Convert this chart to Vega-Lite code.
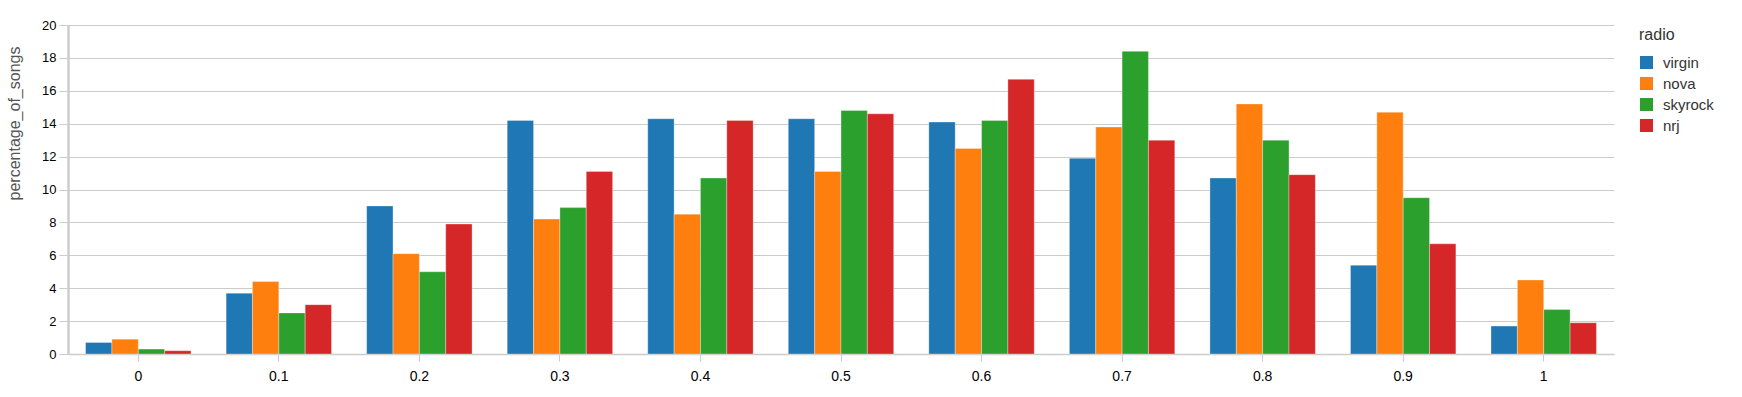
{
  "$schema": "https://vega.github.io/schema/vega-lite/v6.json",
  "width": 1546,
  "height": 329,
  "autosize": {"type": "none"},
  "padding": {"left": 68, "top": 25, "right": 128, "bottom": 43},
  "background": "white",
  "config": {
    "font": "Liberation Sans",
    "view": {"stroke": null},
    "axis": {"labelFont": "Liberation Sans", "titleFont": "Liberation Sans"}
  },
  "data": {
    "values": [
      {"bin": "0", "radio": "virgin", "pct": 0.7},
      {"bin": "0", "radio": "nova", "pct": 0.9},
      {"bin": "0", "radio": "skyrock", "pct": 0.3},
      {"bin": "0", "radio": "nrj", "pct": 0.2},
      {"bin": "0.1", "radio": "virgin", "pct": 3.7},
      {"bin": "0.1", "radio": "nova", "pct": 4.4},
      {"bin": "0.1", "radio": "skyrock", "pct": 2.5},
      {"bin": "0.1", "radio": "nrj", "pct": 3.0},
      {"bin": "0.2", "radio": "virgin", "pct": 9.0},
      {"bin": "0.2", "radio": "nova", "pct": 6.1},
      {"bin": "0.2", "radio": "skyrock", "pct": 5.0},
      {"bin": "0.2", "radio": "nrj", "pct": 7.9},
      {"bin": "0.3", "radio": "virgin", "pct": 14.2},
      {"bin": "0.3", "radio": "nova", "pct": 8.2},
      {"bin": "0.3", "radio": "skyrock", "pct": 8.9},
      {"bin": "0.3", "radio": "nrj", "pct": 11.1},
      {"bin": "0.4", "radio": "virgin", "pct": 14.3},
      {"bin": "0.4", "radio": "nova", "pct": 8.5},
      {"bin": "0.4", "radio": "skyrock", "pct": 10.7},
      {"bin": "0.4", "radio": "nrj", "pct": 14.2},
      {"bin": "0.5", "radio": "virgin", "pct": 14.3},
      {"bin": "0.5", "radio": "nova", "pct": 11.1},
      {"bin": "0.5", "radio": "skyrock", "pct": 14.8},
      {"bin": "0.5", "radio": "nrj", "pct": 14.6},
      {"bin": "0.6", "radio": "virgin", "pct": 14.1},
      {"bin": "0.6", "radio": "nova", "pct": 12.5},
      {"bin": "0.6", "radio": "skyrock", "pct": 14.2},
      {"bin": "0.6", "radio": "nrj", "pct": 16.7},
      {"bin": "0.7", "radio": "virgin", "pct": 11.9},
      {"bin": "0.7", "radio": "nova", "pct": 13.8},
      {"bin": "0.7", "radio": "skyrock", "pct": 18.4},
      {"bin": "0.7", "radio": "nrj", "pct": 13.0},
      {"bin": "0.8", "radio": "virgin", "pct": 10.7},
      {"bin": "0.8", "radio": "nova", "pct": 15.2},
      {"bin": "0.8", "radio": "skyrock", "pct": 13.0},
      {"bin": "0.8", "radio": "nrj", "pct": 10.9},
      {"bin": "0.9", "radio": "virgin", "pct": 5.4},
      {"bin": "0.9", "radio": "nova", "pct": 14.7},
      {"bin": "0.9", "radio": "skyrock", "pct": 9.5},
      {"bin": "0.9", "radio": "nrj", "pct": 6.7},
      {"bin": "1", "radio": "virgin", "pct": 1.7},
      {"bin": "1", "radio": "nova", "pct": 4.5},
      {"bin": "1", "radio": "skyrock", "pct": 2.7},
      {"bin": "1", "radio": "nrj", "pct": 1.9}
    ]
  },
  "mark": {"type": "bar", "stroke": "white", "strokeOpacity": 0.4, "strokeWidth": 0.8},
  "encoding": {
    "x": {
      "field": "bin",
      "type": "nominal",
      "sort": null,
      "scale": {"paddingInner": 0.25, "paddingOuter": 0.125},
      "axis": {
        "title": null,
        "labelAngle": 0,
        "labelFontSize": 14,
        "labelColor": "#000000",
        "labelPadding": 8,
        "tickColor": "#cccccc",
        "tickSize": 7,
        "domainColor": "#cccccc",
        "domainWidth": 1.5,
        "grid": false
      }
    },
    "xOffset": {
      "field": "radio",
      "type": "nominal",
      "sort": ["virgin", "nova", "skyrock", "nrj"]
    },
    "y": {
      "field": "pct",
      "type": "quantitative",
      "scale": {"domain": [0, 20], "nice": false},
      "axis": {
        "title": "percentage_of_songs",
        "titleFontSize": 16,
        "titleFontWeight": "normal",
        "titleColor": "#555555",
        "titleAngle": -90,
        "titleAlign": "center",
        "titleBaseline": "middle",
        "titleX": -54,
        "titleY": 98,
        "values": [0, 2, 4, 6, 8, 10, 12, 14, 16, 18, 20],
        "labelFontSize": 13,
        "labelColor": "#000000",
        "labelPadding": 3,
        "tickColor": "#cccccc",
        "tickSize": 9,
        "domainColor": "#cccccc",
        "domainWidth": 2.5,
        "gridColor": "#cccccc",
        "gridWidth": 1
      }
    },
    "color": {
      "field": "radio",
      "type": "nominal",
      "sort": ["virgin", "nova", "skyrock", "nrj"],
      "scale": {
        "domain": ["virgin", "nova", "skyrock", "nrj"],
        "range": ["#1f77b4", "#ff7f0e", "#2ca02c", "#d62728"]
      },
      "legend": {
        "orient": "none",
        "legendX": 1571,
        "legendY": 2,
        "title": "radio",
        "titleFontSize": 16,
        "titleFontWeight": "normal",
        "titleColor": "#333333",
        "titlePadding": 12,
        "labelFontSize": 15,
        "labelColor": "#333333",
        "symbolType": "square",
        "symbolSize": 170,
        "symbolStrokeWidth": 0,
        "rowPadding": 5,
        "labelOffset": 9
      }
    }
  }
}
